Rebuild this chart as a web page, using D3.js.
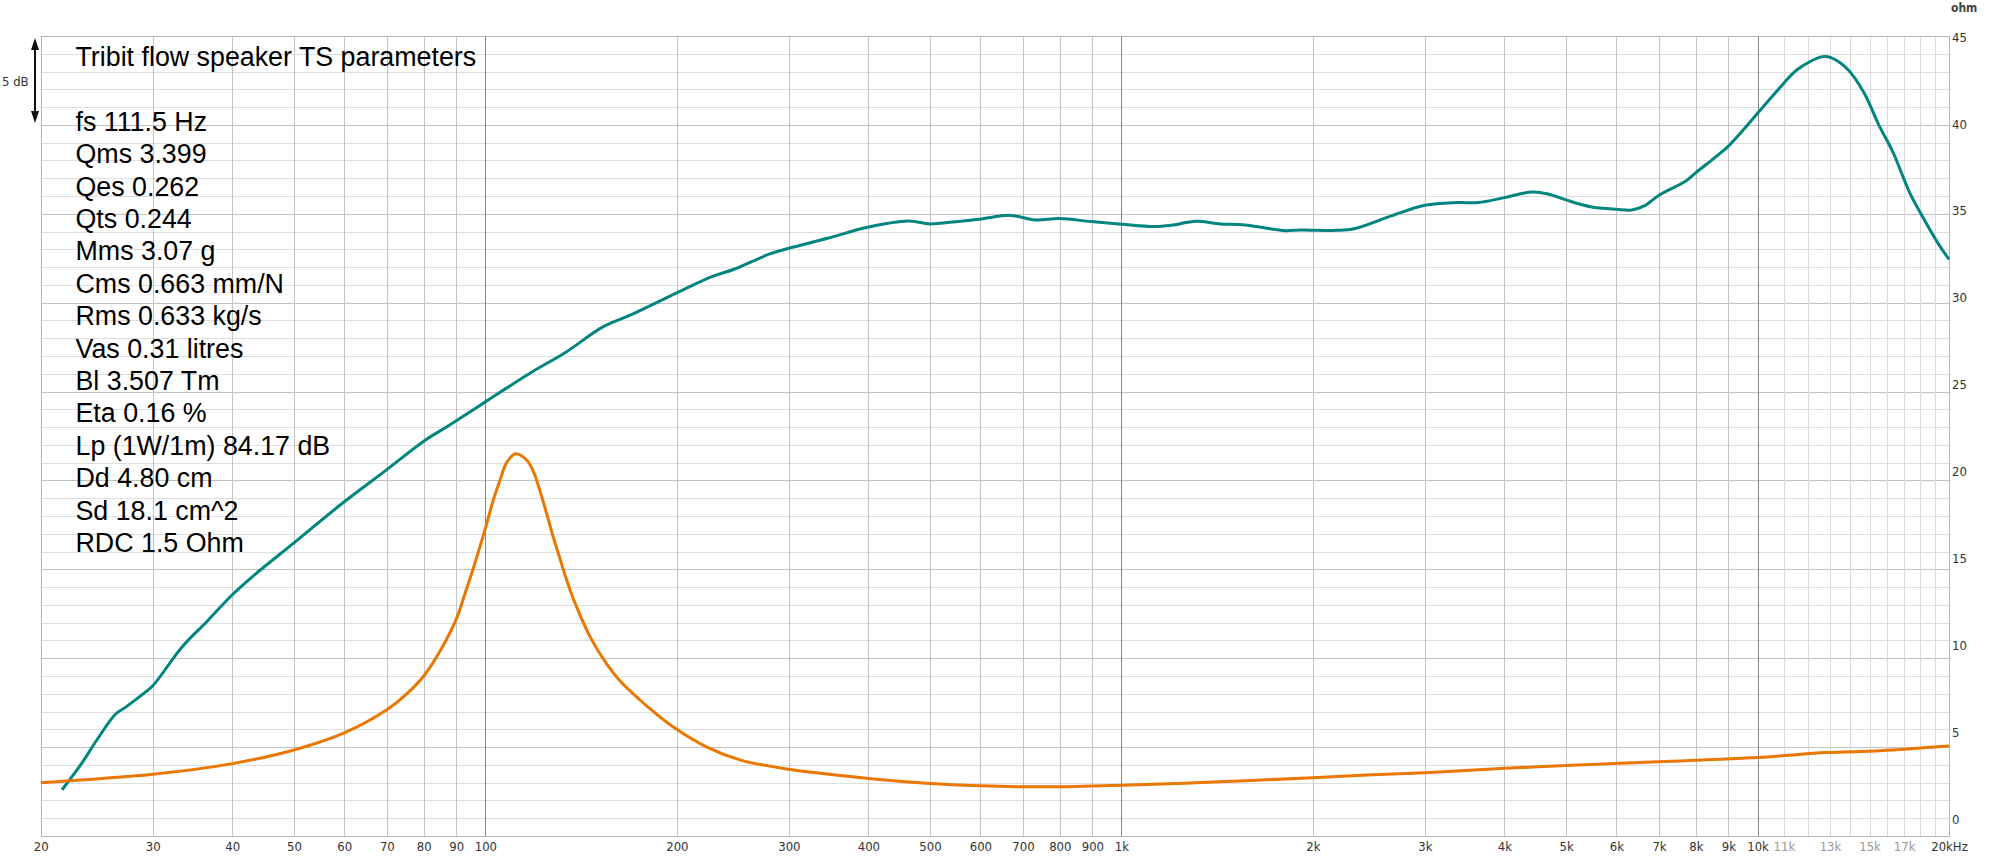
<!DOCTYPE html>
<html>
<head>
<meta charset="utf-8">
<script src="https://cdn.jsdelivr.net/npm/d3@7"></script>
<style>
  body { margin: 0; background: #fff; }
  .tick text { font-family: "Liberation Sans Narrow", "DejaVu Sans Condensed", "Open Sans", sans-serif; font-size: 13px; fill: #333; }
</style>
</head>
<body>
<div id="chart"></div>
<script>
// curve data (frequency in Hz, value on the ohm scale)
var tealFreq = [21.6, 23.1, 24.5, 26.2, 27.2, 29.1, 30, 33.4, 36.5, 40, 43, 50, 60, 70, 80, 87, 100,
  117.5, 134, 153, 170, 200, 227, 246, 280, 300, 345, 399, 462, 500, 543, 598, 669, 732, 800, 896,
  1000, 1123, 1198, 1309, 1431, 1564, 1809, 1909, 2186, 2322, 2657, 3000, 3377, 3641, 4000, 4426,
  4700, 5000, 5461, 6000, 6343, 6634, 7000, 7714, 8000, 8566, 9000, 9514, 10000, 10730, 11567,
  12660, 13045, 13855, 14703, 15496, 16338, 17345, 18148, 19270, 20000];
var tealVal = [2.6, 4.0, 5.4, 6.85, 7.25, 8.05, 8.45, 10.66, 12.07, 13.57, 14.58, 16.49, 18.8, 20.61, 22.21, 23.02, 24.42,
  26.03, 27.23, 28.64, 29.34, 30.55, 31.46, 31.88, 32.74, 33.06, 33.62, 34.24, 34.59, 34.43, 34.54, 34.69, 34.91, 34.65, 34.73, 34.56,
  34.41, 34.28, 34.35, 34.58, 34.43, 34.37, 34.05, 34.09, 34.07, 34.16, 34.88, 35.48, 35.63, 35.63, 35.91, 36.23,
  36.1, 35.78, 35.4, 35.25, 35.21, 35.44, 36.04, 36.84, 37.31, 38.16, 38.81, 39.75, 40.65, 41.91, 43.13,
  43.84, 43.78, 43.13, 41.81, 40.03, 38.44, 36.19, 34.88, 33.28, 32.44];

var orangeFreq = [20, 30, 40, 50, 60, 70, 75, 80, 85, 90, 93, 96, 100, 102.9, 105.4, 108, 111.5, 116.1,
  119, 121.9, 124.9, 127.9, 131, 134.2, 138, 146.6, 155, 162.6, 175, 183, 198, 223, 252, 300, 400,
  500, 600, 700, 800, 900, 1000, 1454, 2000, 2431, 3000, 4000, 5000, 7000, 10000, 12840, 15600, 20000];
var orangeVal = [3.0, 3.47, 4.07, 4.84, 5.8, 7.1, 7.95, 9.0, 10.45, 12.2, 13.7, 15.2, 17.3, 18.9, 20.0, 21.0, 21.5, 21.15,
  20.5, 19.4, 18.1, 16.8, 15.6, 14.4, 13.2, 11.1, 9.7, 8.75, 7.65, 7.05, 6.1, 5.0, 4.27, 3.75, 3.24,
  2.96, 2.83, 2.77, 2.77, 2.81, 2.85, 3.06, 3.28, 3.43, 3.56, 3.81, 3.96, 4.18, 4.42, 4.69, 4.8, 5.06];

// axis labels
var xLabelFreq = [20, 30, 40, 50, 60, 70, 80, 90, 100, 200, 300, 400, 500, 600, 700, 800, 900,
  1000, 2000, 3000, 4000, 5000, 6000, 7000, 8000, 9000, 10000, 11000, 13000, 15000, 17000, 20000];
var xLabelText = ["20", "30", "40", "50", "60", "70", "80", "90", "100", "200", "300", "400", "500", "600", "700", "800", "900",
  "1k", "2k", "3k", "4k", "5k", "6k", "7k", "8k", "9k", "10k", "11k", "13k", "15k", "17k", "20kHz"];
var lightLabels = [11000, 13000, 15000, 17000];
var yLabelVals = [0, 5, 10, 15, 20, 25, 30, 35, 40, 45];

var paramLines = ["Tribit flow speaker TS parameters", "", "fs 111.5 Hz", "Qms 3.399", "Qes 0.262",
  "Qts 0.244", "Mms 3.07 g", "Cms 0.663 mm/N", "Rms 0.633 kg/s", "Vas 0.31 litres", "Bl 3.507 Tm",
  "Eta 0.16 %", "Lp (1W/1m) 84.17 dB", "Dd 4.80 cm", "Sd 18.1 cm^2", "RDC 1.5 Ohm"];

var W = 2000, H = 860;
var plotL = 40.8, plotR = 1949, plotT = 36, plotB = 836;

var x = d3.scaleLog().domain([20, 20000]).range([plotL, plotR]);
var y = d3.scaleLinear().domain([0, 45]).range([plotB, plotT]);
// the ohm labels sit on a slightly tighter scale than the grid
var yLab = d3.scaleLinear().domain([0, 45]).range([819, 37]);

var svg = d3.select("#chart").append("svg")
  .attr("width", W).attr("height", H);

// horizontal grid, 1 ohm steps
var grid = svg.append("g");
grid.selectAll(".hg").data(d3.range(0, 46)).enter().append("line")
  .attr("x1", plotL).attr("x2", plotR)
  .attr("y1", function(d) { return Math.round(y(d)) + 0.5; })
  .attr("y2", function(d) { return Math.round(y(d)) + 0.5; })
  .attr("stroke", function(d) { return d % 5 === 0 ? "#c2c2c2" : "#dedede"; })
  .attr("stroke-width", 1);

// vertical grid
var vLines = [];
[10, 100, 1000].forEach(function(dec) {
  for (var m = 1; m <= 9; m++) { var f = dec * m; if (f >= 20 && f <= 9000) vLines.push(f); }
});
for (var k = 10; k <= 20; k++) vLines.push(k * 1000);
grid.selectAll(".vg").data(vLines).enter().append("line")
  .attr("x1", function(d) { return Math.round(x(d)) + 0.5; })
  .attr("x2", function(d) { return Math.round(x(d)) + 0.5; })
  .attr("y1", plotT).attr("y2", plotB)
  .attr("stroke", function(d) {
    if (d === 100 || d === 1000 || d === 10000) return "#858585";
    if (d > 10000 && d < 20000) return "#dadada";
    return "#c4c4c4";
  })
  .attr("stroke-width", 1);

// frame
svg.append("rect")
  .attr("x", Math.round(plotL) + 0.5).attr("y", plotT + 0.5)
  .attr("width", Math.round(plotR - plotL)).attr("height", plotB - plotT)
  .attr("fill", "none").attr("stroke", "#b4b4b4").attr("stroke-width", 1);

// curves
var line = d3.line()
  .x(function(d) { return x(d[0]); })
  .y(function(d) { return y(d[1]); })
  .curve(d3.curveCatmullRom.alpha(0.5));

svg.append("path")
  .datum(tealFreq.map(function(f, i) { return [f, tealVal[i]]; }))
  .attr("d", line)
  .attr("fill", "none").attr("stroke", "#00857f").attr("stroke-width", 3)
  .attr("stroke-linejoin", "round");

svg.append("path")
  .datum(orangeFreq.map(function(f, i) { return [f, orangeVal[i]]; }))
  .attr("d", line)
  .attr("fill", "none").attr("stroke", "#e97700").attr("stroke-width", 3)
  .attr("stroke-linejoin", "round");

// x axis labels
var xAxis = svg.append("g")
  .attr("transform", "translate(0," + plotB + ")")
  .call(d3.axisBottom(x).tickValues(xLabelFreq).tickSize(0).tickPadding(6)
    .tickFormat(function(d, i) { return xLabelText[i]; }));
xAxis.select(".domain").remove();
xAxis.selectAll(".tick text")
  .style("fill", function(d) { return lightLabels.indexOf(d) >= 0 ? "#9a9a9a" : "#333"; });

// y axis labels on the right
var yAxis = svg.append("g")
  .attr("transform", "translate(" + plotR + ",0)")
  .call(d3.axisRight(yLab).tickValues(yLabelVals).tickSize(0).tickPadding(3));
yAxis.select(".domain").remove();

svg.append("text")
  .attr("x", 1951).attr("y", 12)
  .style("font-family", "\"Liberation Sans Narrow\", \"DejaVu Sans Condensed\", sans-serif")
  .style("font-size", "12px").style("font-weight", "bold").style("fill", "#444")
  .text("ohm");

// 5 dB scale marker
svg.append("text")
  .attr("x", 2).attr("y", 86)
  .style("font-family", "\"Liberation Sans Narrow\", \"DejaVu Sans Condensed\", sans-serif")
  .style("font-size", "13px").style("fill", "#333")
  .text("5 dB");
svg.append("line")
  .attr("x1", 35).attr("x2", 35).attr("y1", 46).attr("y2", 115)
  .attr("stroke", "#111").attr("stroke-width", 2);
svg.append("path").attr("d", "M35,38L31,50L39,50Z").attr("fill", "#111");
svg.append("path").attr("d", "M35,123L31,111L39,111Z").attr("fill", "#111");

// parameter text block
svg.append("g").selectAll("text").data(paramLines).enter().append("text")
  .attr("x", 75.5)
  .attr("y", function(d, i) { return 66 + i * 32.4; })
  .style("font-family", "\"Liberation Sans\", Arial, sans-serif")
  .style("font-size", "26.8px").style("fill", "#000")
  .text(function(d) { return d; });
</script>
</body>
</html>
